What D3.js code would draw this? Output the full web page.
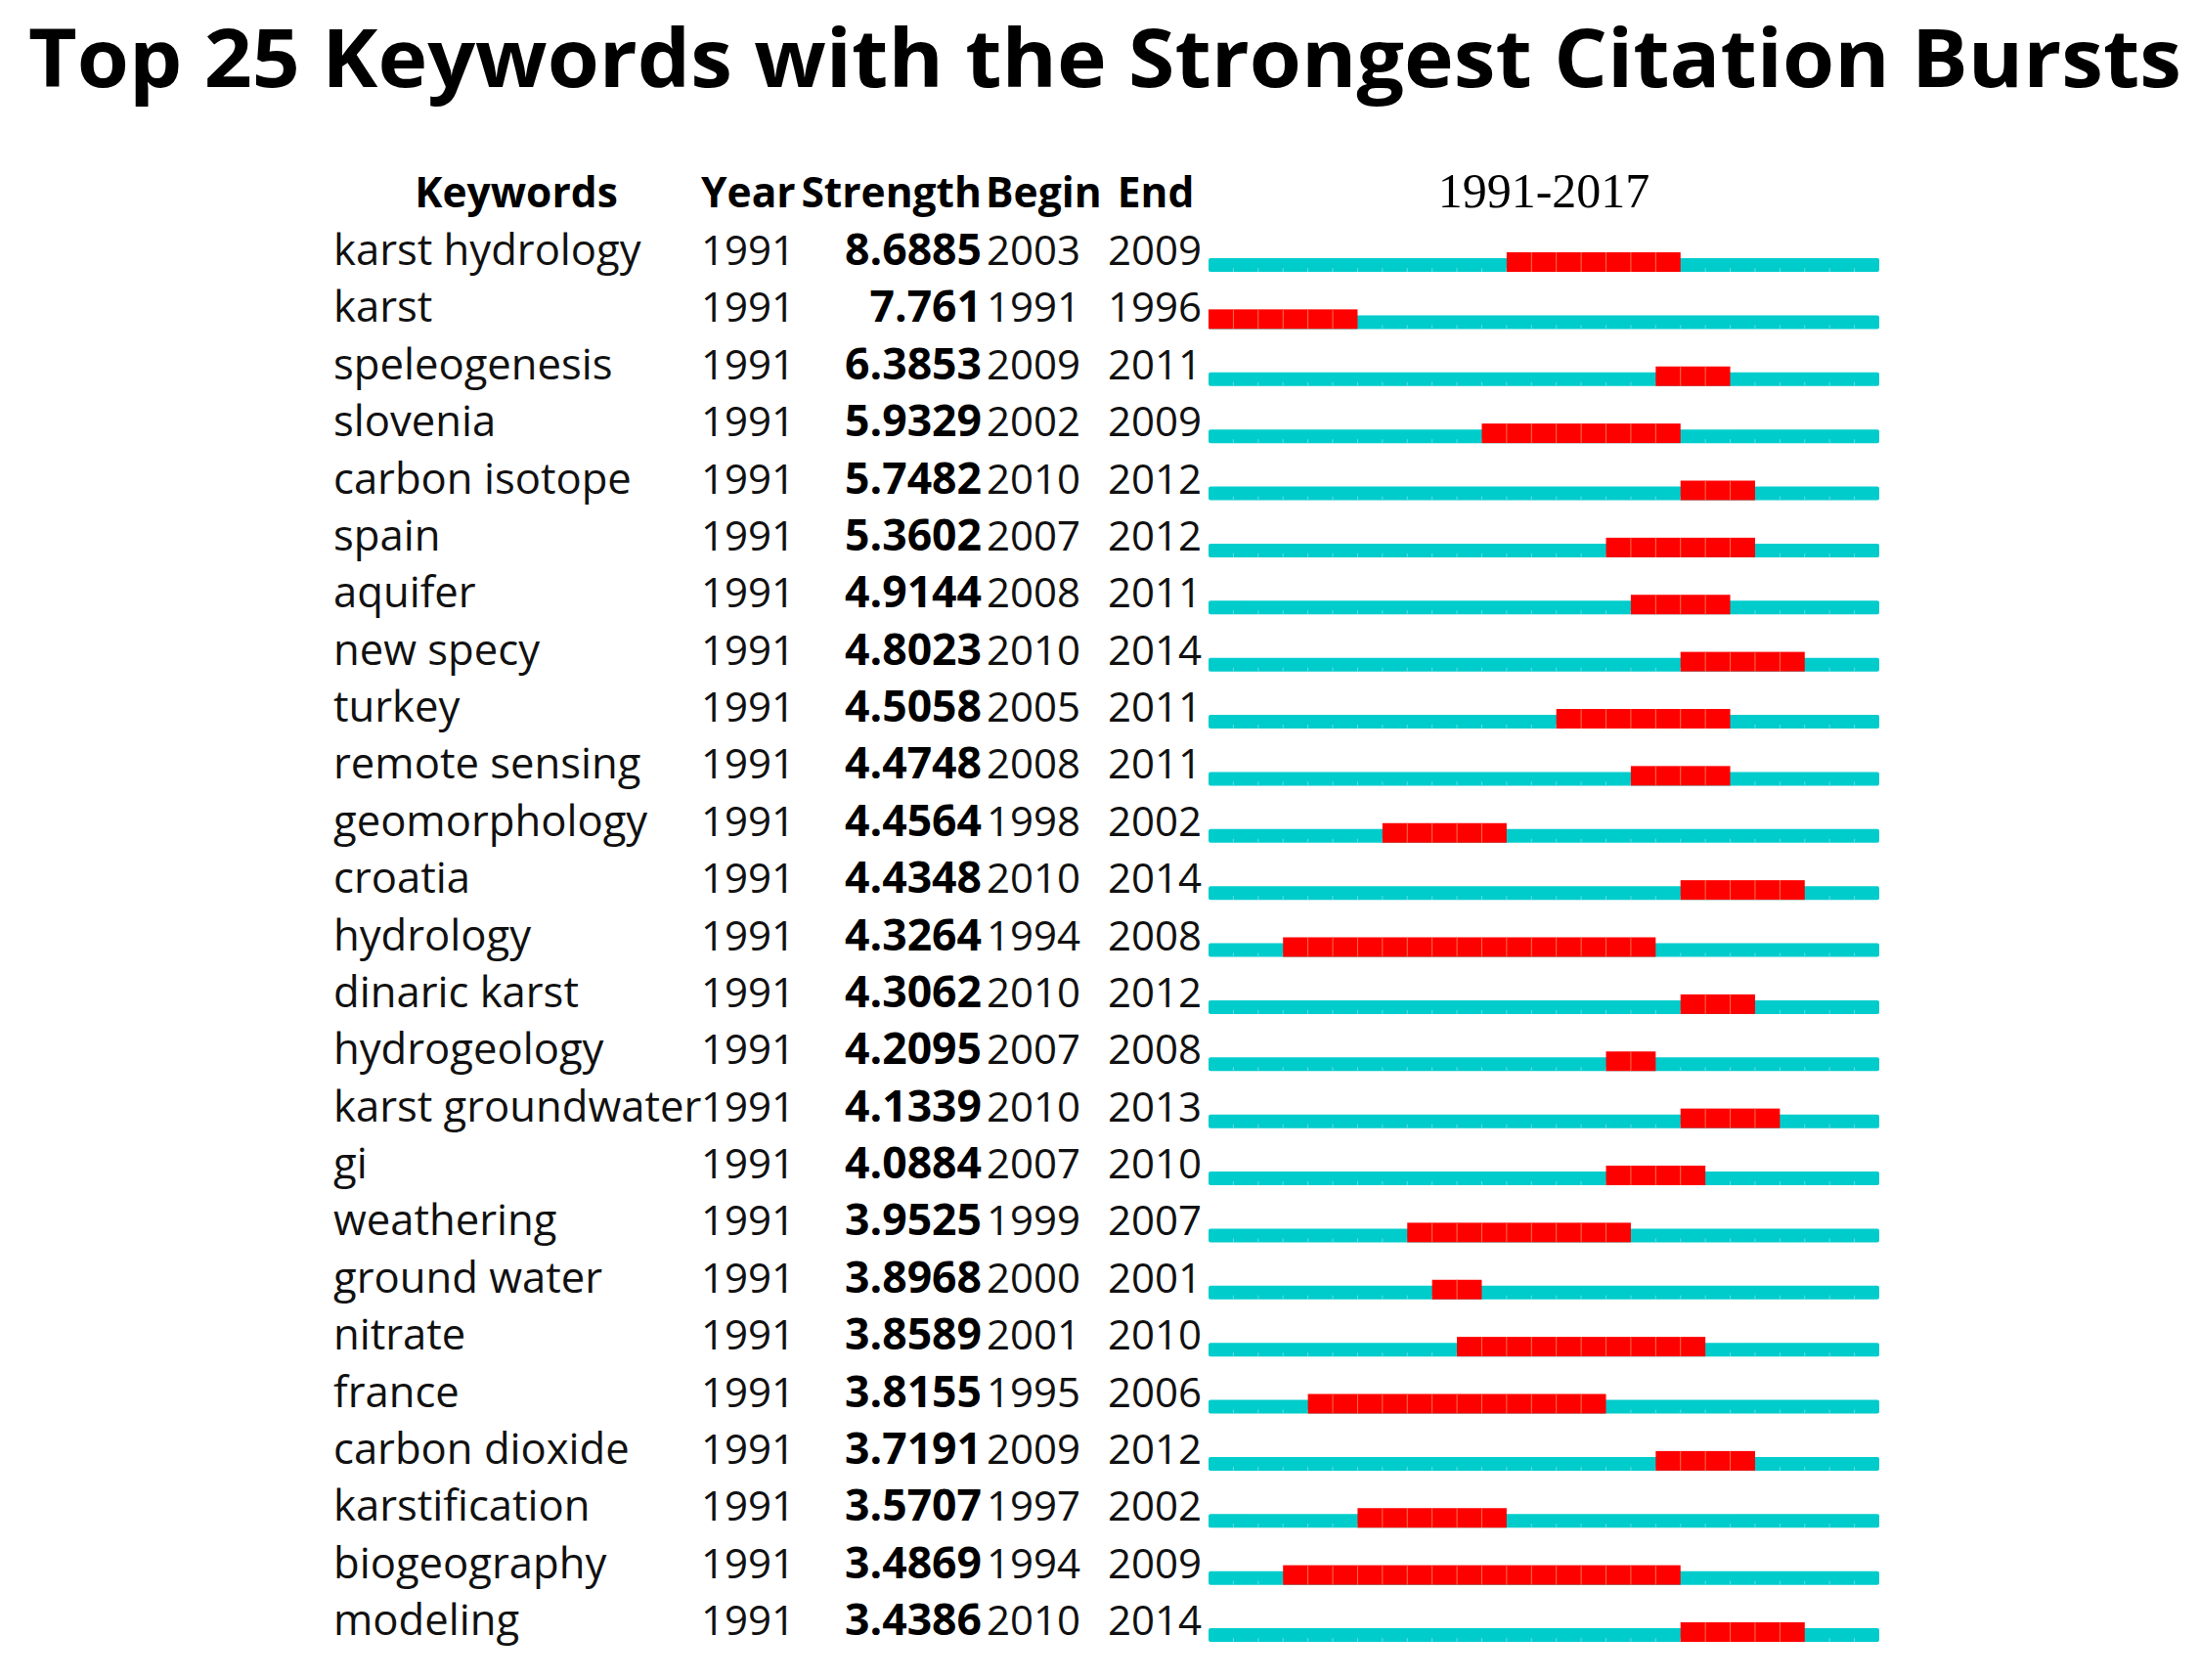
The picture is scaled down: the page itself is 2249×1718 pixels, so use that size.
<!DOCTYPE html>
<html>
<head>
<meta charset="utf-8">
<script src="https://cdn.jsdelivr.net/npm/d3@7"></script>
<style>
  html, body { margin: 0; padding: 0; background: #fff; }
  svg { display: block; }
</style>
</head>
<body>
<script>
const titleText = "Top 25 Keywords with the Strongest Citation Bursts";
const rangeLabel = "1991-2017";
const headers = ["Keywords", "Year", "Strength", "Begin", "End"];
const keywords = ["karst hydrology", "karst", "speleogenesis", "slovenia", "carbon isotope", "spain", "aquifer", "new specy", "turkey", "remote sensing", "geomorphology", "croatia", "hydrology", "dinaric karst", "hydrogeology", "karst groundwater", "gi", "weathering", "ground water", "nitrate", "france", "carbon dioxide", "karstification", "biogeography", "modeling"];
const years = [1991, 1991, 1991, 1991, 1991, 1991, 1991, 1991, 1991, 1991, 1991, 1991, 1991, 1991, 1991, 1991, 1991, 1991, 1991, 1991, 1991, 1991, 1991, 1991, 1991];
const strengths = [8.6885, 7.761, 6.3853, 5.9329, 5.7482, 5.3602, 4.9144, 4.8023, 4.5058, 4.4748, 4.4564, 4.4348, 4.3264, 4.3062, 4.2095, 4.1339, 4.0884, 3.9525, 3.8968, 3.8589, 3.8155, 3.7191, 3.5707, 3.4869, 3.4386];
const begins = [2003, 1991, 2009, 2002, 2010, 2007, 2008, 2010, 2005, 2008, 1998, 2010, 1994, 2010, 2007, 2010, 2007, 1999, 2000, 2001, 1995, 2009, 1997, 1994, 2010];
const ends = [2009, 1996, 2011, 2009, 2012, 2012, 2011, 2014, 2011, 2011, 2002, 2014, 2008, 2012, 2008, 2013, 2010, 2007, 2001, 2010, 2006, 2012, 2002, 2009, 2014];
const startYear = 1991, endYear = 2017;

const W = 2249, H = 1718;
const svg = d3.select("body").append("svg").attr("width", W).attr("height", H);

const rows = keywords.map((k, i) => ({k, year: years[i], s: strengths[i], b: begins[i], e: ends[i]}));

const y = d3.scalePoint().domain(keywords).range([268, 1669]);
const x = d3.scaleLinear().domain([startYear, endYear + 1]).range([1236, 1922]);
const allYears = d3.range(startYear, endYear + 1);

const bodyFont = "'Open Sans', 'Noto Sans', sans-serif";
const TEAL = "#00CCCC", RED = "#FF0000";

// Title
svg.append("text")
  .attr("x", 29).attr("y", 89)
  .attr("font-family", bodyFont).attr("font-weight", 700)
  .attr("font-size", 83)
  .attr("textLength", 2202).attr("lengthAdjust", "spacingAndGlyphs")
  .attr("fill", "#000")
  .text(titleText);

// Headers
const hdr = svg.append("g").attr("font-family", bodyFont).attr("font-weight", 700)
  .attr("font-size", 42.5).attr("fill", "#000");
const hdrPos = [
  {x: 528, anchor: "middle"},
  {x: 717, anchor: "start"},
  {x: 1004, anchor: "end"},
  {x: 1008, anchor: "start"},
  {x: 1182, anchor: "middle"}
];
headers.forEach((h, i) => {
  hdr.append("text").attr("x", hdrPos[i].x).attr("y", 212)
    .attr("text-anchor", hdrPos[i].anchor).text(h);
});

svg.append("text")
  .attr("x", (x(startYear) + x(endYear + 1)) / 2).attr("y", 212)
  .attr("text-anchor", "middle")
  .attr("font-family", "'Liberation Serif', 'Times New Roman', serif")
  .attr("font-size", 50).attr("fill", "#000")
  .text(rangeLabel);

// Rows text
const rg = svg.append("g").attr("font-family", bodyFont).attr("font-size", 42).attr("fill", "#111");
const rowG = rg.selectAll("g.row").data(rows).join("g").attr("class", "row")
  .attr("transform", d => `translate(0,${y(d.k) + 3})`);
rowG.append("text").attr("x", 341).attr("font-size", 43.6).text(d => d.k);
rowG.append("text").attr("x", 717).text(d => d.year);
rowG.append("text").attr("x", 1004).attr("text-anchor", "end").attr("font-weight", 700)
  .attr("font-size", 44.5).attr("fill", "#000").text(d => d.s);
rowG.append("text").attr("x", 1009).text(d => d.b);
rowG.append("text").attr("x", 1229).attr("text-anchor", "end").text(d => d.e);

// Bars
const bars = svg.append("g");
const barRow = bars.selectAll("g.bar").data(rows).join("g").attr("class", "bar")
  .attr("transform", d => `translate(0,${y(d.k)})`);

// teal base line
barRow.append("rect")
  .attr("x", x(startYear)).attr("width", x(endYear + 1) - x(startYear))
  .attr("y", -4).attr("height", 14).attr("rx", 2)
  .attr("fill", TEAL);
// faint teal year dividers
barRow.selectAll("line.td").data(d => allYears.slice(1).filter(yr => yr <= d.b || yr > d.e + 1))
  .join("line").attr("class", "td")
  .attr("x1", yr => x(yr)).attr("x2", yr => x(yr))
  .attr("y1", 6).attr("y2", 10)
  .attr("stroke", "#5fdede").attr("stroke-width", 1);
// red burst cells
barRow.selectAll("rect.burst").data(d => d3.range(d.b, d.e + 1))
  .join("rect").attr("class", "burst")
  .attr("x", yr => x(yr)).attr("width", yr => x(yr + 1) - x(yr))
  .attr("y", -10).attr("height", 20)
  .attr("fill", RED);
barRow.selectAll("line.rd").data(d => d3.range(d.b + 1, d.e + 1))
  .join("line").attr("class", "rd")
  .attr("x1", yr => x(yr)).attr("x2", yr => x(yr))
  .attr("y1", -10).attr("y2", 10)
  .attr("stroke", "#ff6a3c").attr("stroke-width", 1);
</script>
</body>
</html>
